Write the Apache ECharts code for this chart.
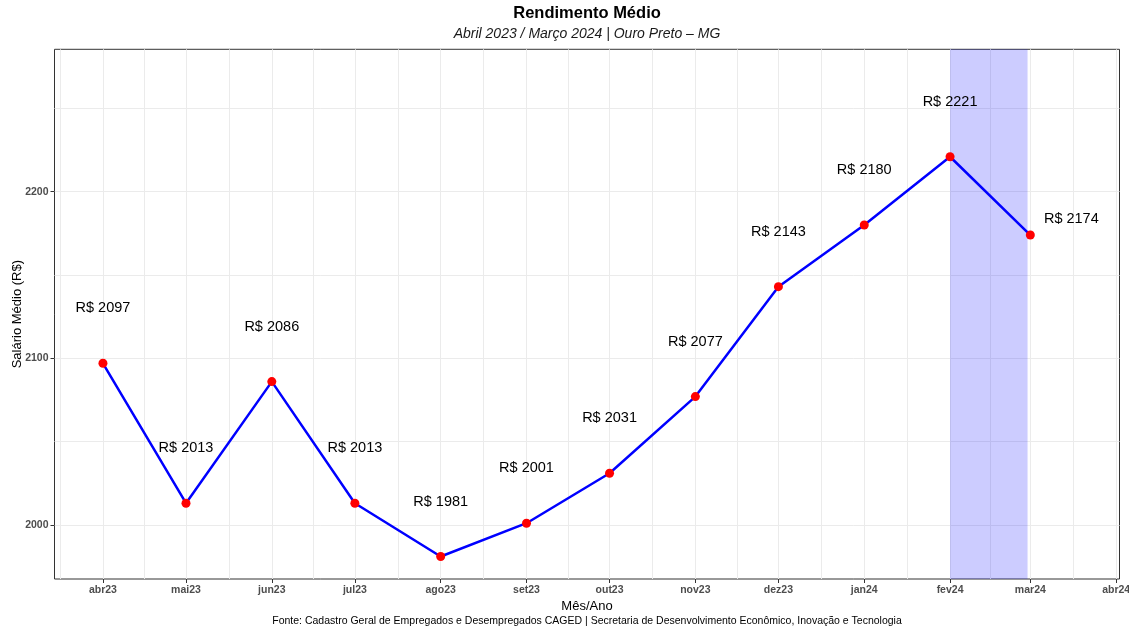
<!DOCTYPE html>
<html>
<head>
<meta charset="utf-8">
<script src="https://cdn.jsdelivr.net/npm/echarts@6/dist/echarts.min.js"></script>
<style>
html,body{margin:0;padding:0;background:#fff;}
#chart{width:1129px;height:629px;}
</style>
</head>
<body>
<div id="chart"></div>
<script>
// ---- data ----
const months = ['2023-04-01','2023-05-01','2023-06-01','2023-07-01','2023-08-01','2023-09-01',
                '2023-10-01','2023-11-01','2023-12-01','2024-01-01','2024-02-01','2024-03-01'];
const salaries = [2097, 2013, 2086, 2013, 1981, 2001, 2031, 2077, 2143, 2180, 2221, 2174];
const tickDates = ['2023-04-01','2023-05-01','2023-06-01','2023-07-01','2023-08-01','2023-09-01',
                   '2023-10-01','2023-11-01','2023-12-01','2024-01-01','2024-02-01','2024-03-01','2024-04-01'];
const tickLabels = ['abr23','mai23','jun23','jul23','ago23','set23','out23','nov23','dez23','jan24','fev24','mar24','abr24'];
const yTicks = [2000, 2100, 2200];
const yMinorTicks = [2050, 2150, 2250];
const highlightStart = '2024-02-01';
const highlightEnd = '2024-02-29';
const xRange = ['2023-03-14T12:00:00Z', '2024-04-02T05:00:00Z'];
const yRange = [1967.5, 2285.5];

const titleText = 'Rendimento Médio';
const subtitleText = 'Abril 2023 / Março 2024 | Ouro Preto – MG';
const captionText = 'Fonte: Cadastro Geral de Empregados e Desempregados CAGED | Secretaria de Desenvolvimento Econômico, Inovação e Tecnologia';

// ---- helpers ----
const ts = s => new Date(s.length <= 10 ? s + 'T00:00:00Z' : s).getTime();
const majorX = tickDates.map(ts);
const prevTick = ts('2023-03-01');
const allX = [prevTick].concat(majorX);
const minorX = [];
for (let i = 0; i < allX.length - 1; i++) minorX.push((allX[i] + allX[i + 1]) / 2);

const FONT = '"Liberation Sans", Arial, Helvetica, sans-serif';
const GRID = { left: 54.5, top: 49.3, right: 9.5, bottom: 50 };
const centerX = (GRID.left + (1129 - GRID.right)) / 2;

const seriesData = months.map((m, i) => {
  const item = { value: [ts(m), salaries[i]] };
  if (i === months.length - 1) {
    item.label = { offset: [41, -16] };
  }
  return item;
});

const chart = echarts.init(document.getElementById('chart'), null, { renderer: 'canvas' });
chart.setOption({
  animation: false,
  backgroundColor: '#ffffff',
  graphic: [
    { type: 'text', x: centerX, y: 13.5, style: { text: titleText, textAlign: 'center', textVerticalAlign: 'middle',
      font: 'bold 16.5px ' + FONT, fill: '#000' } },
    { type: 'text', x: centerX, y: 34.5, style: { text: subtitleText, textAlign: 'center', textVerticalAlign: 'middle',
      font: 'italic 14px ' + FONT, fill: '#1a1a1a' } },
    { type: 'text', x: centerX, y: 621, style: { text: captionText, textAlign: 'center', textVerticalAlign: 'middle',
      font: '10.5px ' + FONT, fill: '#000' } }
  ],
  grid: {
    left: GRID.left, top: GRID.top, right: GRID.right, bottom: GRID.bottom,
    outerBoundsMode: 'none',
    show: true, borderColor: '#333333', borderWidth: 1, backgroundColor: 'transparent',
    containLabel: false
  },
  xAxis: [
    {
      type: 'value', min: ts(xRange[0]), max: ts(xRange[1]),
      name: 'Mês/Ano', nameLocation: 'middle', nameGap: 21, nameMoveOverlap: false,
      nameTextStyle: { fontFamily: FONT, fontSize: 13, color: '#000' },
      axisLine: { show: false },
      axisTick: { show: true, length: 4, lineStyle: { color: '#333333', width: 1 }, customValues: majorX },
      axisLabel: {
        customValues: majorX, margin: 6, hideOverlap: false,
        fontFamily: FONT, fontSize: 10.5, fontWeight: 'bold', color: '#4d4d4d',
        formatter: v => { const i = majorX.findIndex(t => Math.abs(t - v) < 1000); return i >= 0 ? tickLabels[i] : ''; }
      },
      splitLine: { show: true, lineStyle: { color: '#ebebeb', width: 1 } }
    },
    {
      type: 'value', min: ts(xRange[0]), max: ts(xRange[1]), position: 'bottom',
      axisLine: { show: false },
      axisTick: { show: false, customValues: minorX },
      axisLabel: { show: false, customValues: minorX },
      splitLine: { show: true, lineStyle: { color: '#ebebeb', width: 1 } }
    }
  ],
  yAxis: [
    {
      type: 'value', min: yRange[0], max: yRange[1],
      name: 'Salário Médio (R$)', nameLocation: 'middle', nameGap: 31, nameMoveOverlap: false,
      nameTextStyle: { fontFamily: FONT, fontSize: 13, color: '#000' },
      axisLine: { show: false },
      axisTick: { show: true, length: 4, lineStyle: { color: '#333333', width: 1 }, customValues: yTicks },
      axisLabel: { customValues: yTicks, margin: 6, fontFamily: FONT, fontSize: 10.5, fontWeight: 'bold', color: '#4d4d4d',
        formatter: v => String(Math.round(v)) },
      splitLine: { show: true, lineStyle: { color: '#ebebeb', width: 1 } }
    },
    {
      type: 'value', min: yRange[0], max: yRange[1], position: 'left',
      axisLine: { show: false },
      axisTick: { show: false, customValues: yMinorTicks },
      axisLabel: { show: false, customValues: yMinorTicks },
      splitLine: { show: true, lineStyle: { color: '#ebebeb', width: 1 } }
    }
  ],
  series: [
    {
      type: 'line',
      xAxisIndex: 0, yAxisIndex: 0,
      data: seriesData,
      symbol: 'circle', symbolSize: 9,
      lineStyle: { color: '#0000ff', width: 2.5 },
      itemStyle: { color: '#ff0000' },
      label: {
        show: true, position: 'inside', offset: [0, -55],
        fontFamily: FONT, fontSize: 14.5, color: '#000',
        formatter: p => 'R$ ' + p.value[1]
      },
      markArea: {
        silent: true,
        itemStyle: { color: 'rgba(0,0,255,0.2)' },
        data: [[{ xAxis: ts(highlightStart) }, { xAxis: ts(highlightEnd) }]]
      },
      z: 3
    }
  ]
});
</script>
</body>
</html>
